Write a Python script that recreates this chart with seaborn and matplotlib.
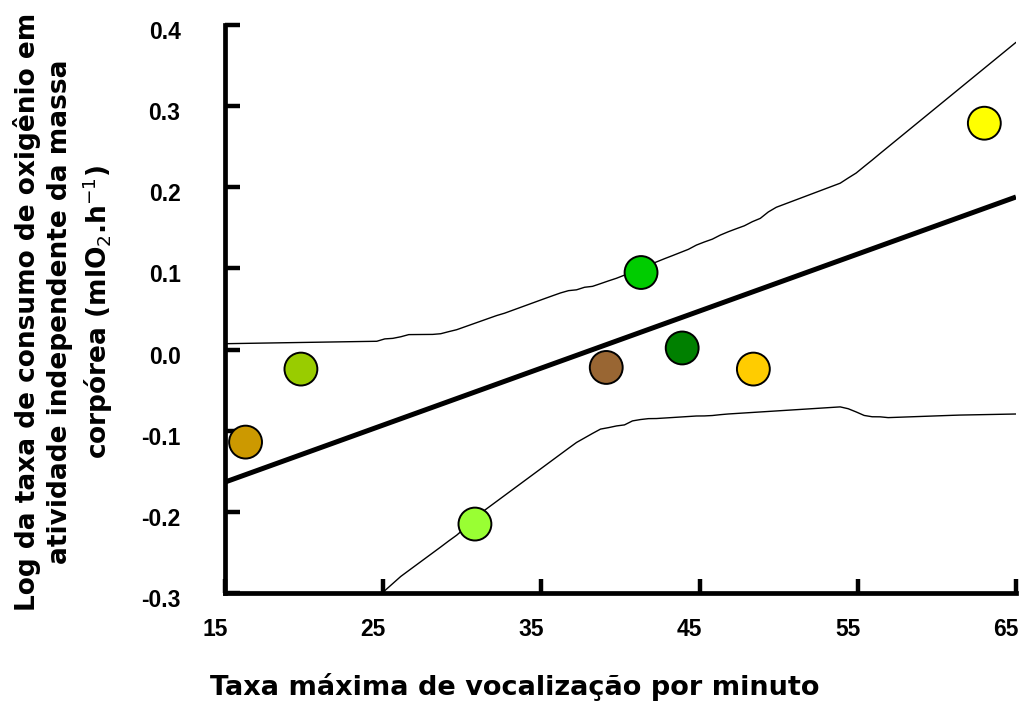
import numpy as np
import pandas as pd
import matplotlib
matplotlib.use("Agg")
import matplotlib.pyplot as plt
import matplotlib.transforms as mtransforms
import seaborn as sns

# ---- data ----
vocal_rate = [16.3, 19.8, 30.8, 39.1, 41.3, 43.9, 48.4, 63.0]
log_vo2 = [-0.114, -0.024, -0.215, -0.022, 0.095, 0.002, -0.024, 0.279]
point_colors = ["#CC9900", "#99CC00", "#99FF33", "#996633",
                "#00CC00", "#008000", "#FFCC00", "#FFFF00"]
x_ticks = [15, 25, 35, 45, 55, 65]
y_ticks = [-0.3, -0.2, -0.1, 0.0, 0.1, 0.2, 0.3, 0.4]
y_tick_labels = ["-0.3", "-0.2", "-0.1", "0.0", "0.1", "0.2", "0.3", "0.4"]
x_label = "Taxa máxima de vocalização por minuto"
y_label = ("Log da taxa de consumo de oxigênio em\n"
           "atividade independente da massa\n"
           "corpórea (mlO$_2$.h$^{-1}$)")

df = pd.DataFrame({"x": vocal_rate, "y": log_vo2,
                   "sp": [f"s{i}" for i in range(len(vocal_rate))]})

sns.set_theme(style="white")
plt.rcParams["font.family"] = ["DejaVu Sans"]

fig = plt.figure(figsize=(10.25, 7.07), dpi=100)
ax = fig.add_axes([0.2195, 0.1612, 0.9912 - 0.2195, 0.9646 - 0.1612])
ax.set_xlim(15, 65)
ax.set_ylim(-0.3, 0.4)

sns.regplot(data=df, x="x", y="y", scatter=False, ci=99, n_boot=2000, seed=3,
            truncate=False, color="black",
            line_kws={"linewidth": 3.6, "color": "black", "solid_capstyle": "butt"},
            ax=ax)

# convert the confidence band into two thin lines
for coll in list(ax.collections):
    verts = np.concatenate([p.vertices for p in coll.get_paths()])
    xs = np.round(verts[:, 0], 8)
    ux = np.unique(xs)
    upper = np.array([verts[xs == u, 1].max() for u in ux])
    lower = np.array([verts[xs == u, 1].min() for u in ux])
    coll.remove()
    ax.plot(ux, upper, color="black", lw=1.0, zorder=1.5)
    ax.plot(ux, lower, color="black", lw=1.0, zorder=1.5)

sns.scatterplot(data=df, x="x", y="y", hue="sp", palette=point_colors,
                s=560, edgecolor="black", linewidth=1.4, legend=False,
                zorder=4, ax=ax, clip_on=False)

ax.set_xlim(15, 65)
ax.set_ylim(-0.3, 0.4)
ax.set_xticks(x_ticks)
ax.set_xticklabels([str(t) for t in x_ticks])
ax.set_yticks(y_ticks)
ax.set_yticklabels(y_tick_labels)

for side in ["top", "right"]:
    ax.spines[side].set_visible(False)
for side in ["left", "bottom"]:
    ax.spines[side].set_visible(True)
    ax.spines[side].set_linewidth(3.4)
    ax.spines[side].set_color("black")

ax.tick_params(axis="x", bottom=True, direction="in", length=10, width=3.2,
               color="black", pad=18, labelsize=16.5)
ax.tick_params(axis="y", left=True, direction="in", length=11, width=3.2,
               color="black", pad=32, labelsize=16.5)
for lab in ax.get_xticklabels() + ax.get_yticklabels():
    lab.set_fontfamily("Liberation Sans")
    lab.set_fontweight("bold")
    lab.set_color("black")

dx = mtransforms.ScaledTranslation(-10 / 100, 0, fig.dpi_scale_trans)
for lab in ax.get_xticklabels():
    lab.set_transform(lab.get_transform() + dx)
dy = mtransforms.ScaledTranslation(0, -5 / 100, fig.dpi_scale_trans)
for lab in ax.get_yticklabels():
    lab.set_transform(lab.get_transform() + dy)

ax.set_xlabel("")
ax.set_ylabel("")
fig.text(0.502, 1 - 687 / 707, x_label, ha="center", va="center",
         fontsize=19.5, fontweight="bold", color="black")
fig.text(64 / 1025, 1 - 312 / 707, y_label, ha="center", va="center",
         rotation=90, fontsize=19, fontweight="bold", color="black",
         multialignment="center", linespacing=1.3)

ax.grid(False)
fig.savefig("out.png", dpi=100)
